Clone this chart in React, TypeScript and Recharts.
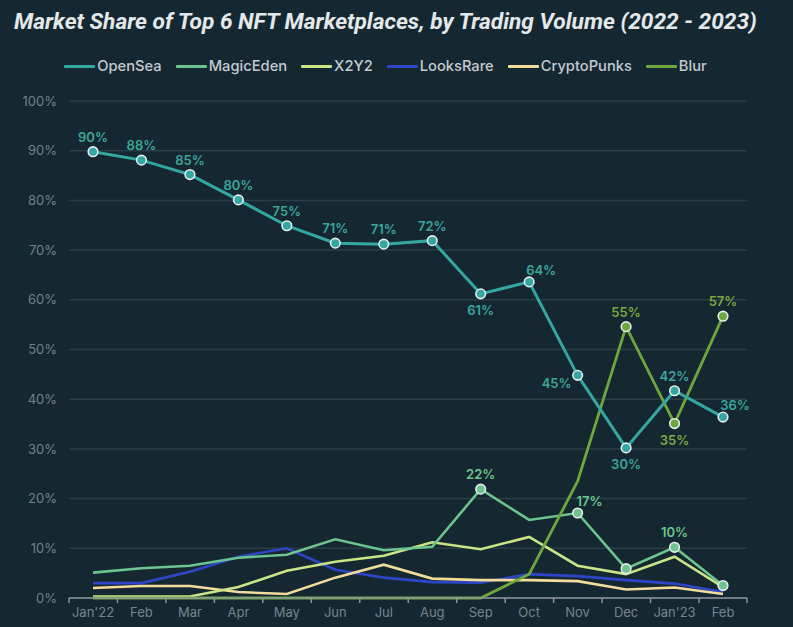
import * as React from "react";
import { LineChart, Line, XAxis, YAxis, CartesianGrid, Legend } from "recharts";

document.body.style.margin = "0";

const months = ["Jan'22", "Feb", "Mar", "Apr", "May", "Jun", "Jul", "Aug", "Sep", "Oct", "Nov", "Dec", "Jan'23", "Feb"];
const openSea = [89.8, 88.1, 85.2, 80.1, 74.9, 71.4, 71.2, 71.9, 61.2, 63.6, 44.8, 30.2, 41.7, 36.4];
const magicEden = [5.1, 6.0, 6.5, 8.1, 8.7, 11.8, 9.6, 10.3, 21.9, 15.7, 17.1, 5.9, 10.2, 2.5];
const x2y2 = [0.3, 0.3, 0.3, 2.2, 5.5, 7.3, 8.5, 11.2, 9.8, 12.3, 6.5, 4.8, 8.3, 2.2];
const looksRare = [3.0, 3.0, 5.3, 8.3, 10.0, 5.7, 4.1, 3.2, 3.1, 4.8, 4.4, 3.6, 2.9, 1.2];
const cryptoPunks = [2.0, 2.4, 2.4, 1.2, 0.8, 4.1, 6.7, 3.9, 3.6, 3.6, 3.4, 1.7, 2.1, 0.8];
const blur = [0, 0, 0, 0, 0, 0, 0, 0, 0, 4.8, 23.5, 54.6, 35.1, 56.7];
const yTicks = [0, 10, 20, 30, 40, 50, 60, 70, 80, 90, 100];

// which points get a marker, and where its label sits
type Mark = "top" | "bottom" | "left" | "topRight" | "dot";
const openSeaMarks: Record<number, Mark> = {
  0: "top", 1: "top", 2: "top", 3: "top", 4: "top", 5: "top", 6: "top", 7: "top",
  8: "bottom", 9: "topRight", 10: "left", 11: "bottom", 12: "top", 13: "topRight",
};
const magicEdenMarks: Record<number, Mark> = { 8: "top", 10: "topRight", 11: "dot", 12: "top", 13: "dot" };
const blurMarks: Record<number, Mark> = { 11: "top", 12: "bottom", 13: "top" };

const data = months.map((m, i) => ({
  month: m,
  OpenSea: openSea[i],
  MagicEden: magicEden[i],
  X2Y2: x2y2[i],
  LooksRare: looksRare[i],
  CryptoPunks: cryptoPunks[i],
  Blur: blur[i],
}));

const SERIES = [
  { key: "OpenSea", color: "#33a8a0" },
  { key: "MagicEden", color: "#6cc48f" },
  { key: "X2Y2", color: "#cbe586" },
  { key: "LooksRare", color: "#2f45c8" },
  { key: "CryptoPunks", color: "#f1dc9c" },
  { key: "Blur", color: "#6ea83c" },
];
const colorOf = (k: string) => SERIES.find((s) => s.key === k)!.color;

const BG = "#152831";
const FONT = "Inter, 'Noto Sans', sans-serif";
const X_PAD = 24;

function makeDot(marks: Record<number, Mark>, color: string, labelColor: string) {
  return (p: any) => {
    const mark = marks[p.index];
    if (!mark) return <g key={p.index} />;
    const label = `${Math.round(p.value)}%`;
    let tx = p.cx;
    let ty = p.cy - 10;
    if (mark === "bottom") ty = p.cy + 21;
    if (mark === "left") {
      tx = p.cx - 21;
      ty = p.cy + 13;
    }
    if (mark === "topRight") {
      tx = p.cx + 12;
      ty = p.cy - 7;
    }
    return (
      <g key={p.index}>
        <circle cx={p.cx} cy={p.cy} r={4.8} fill={color} stroke="#e8eef0" strokeWidth={1.6} />
        {mark !== "dot" && (
          <text x={tx} y={ty} textAnchor="middle" fill={labelColor} fontSize={13} fontWeight={600} fontFamily={FONT}>
            {label}
          </text>
        )}
      </g>
    );
  };
}

function XTick(props: any) {
  const { x, y, payload, index } = props;
  const axisY = y - 5;
  return (
    <g>
      <line x1={x - X_PAD} x2={x - X_PAD} y1={axisY} y2={axisY + 5} stroke="#8c969c" strokeWidth={1.5} />
      {index === months.length - 1 && (
        <line x1={x + X_PAD} x2={x + X_PAD} y1={axisY} y2={axisY + 5} stroke="#8c969c" strokeWidth={1.5} />
      )}
      <text x={x} y={y + 14} textAnchor="middle" fill="#76858e" fontSize={13} fontFamily={FONT}>
        {payload.value}
      </text>
    </g>
  );
}

function LegendRow() {
  return (
    <div style={{ display: "flex", justifyContent: "center", alignItems: "center", gap: 14, fontFamily: FONT, paddingRight: 22 }}>
      {SERIES.map((s) => (
        <div key={s.key} style={{ display: "flex", alignItems: "center", gap: 2 }}>
          <span style={{ display: "inline-block", width: 31, height: 3, background: s.color, borderRadius: 1 }} />
          <span style={{ color: "#c3cbd0", fontSize: 14.7, fontWeight: 500 }}>{s.key}</span>
        </div>
      ))}
    </div>
  );
}

export default function App() {
  return (
    <div style={{ position: "relative", width: 793, height: 627, background: BG, overflow: "hidden" }}>
      <div
        style={{
          position: "absolute",
          left: 14,
          top: 8,
          color: "#e4e8ea",
          fontFamily: "Roboto, Inter, sans-serif",
          fontStyle: "italic",
          fontWeight: 700,
          fontSize: 22.7,
          whiteSpace: "nowrap",
        }}
      >
        Market Share of Top 6 NFT Marketplaces, by Trading Volume (2022 - 2023)
      </div>
      <LineChart width={793} height={627} data={data} margin={{ top: 101, right: 46, left: 0, bottom: 0 }}>
        <CartesianGrid vertical={false} stroke="#2b3d48" strokeWidth={1.5} />
        <XAxis
          dataKey="month"
          height={29}
          padding={{ left: X_PAD, right: X_PAD }}
          tickLine={false}
          tickSize={5}
          tickMargin={0}
          axisLine={{ stroke: "#8c969c", strokeWidth: 1.5 }}
          tick={<XTick />}
          interval={0}
        />
        <YAxis
          width={69}
          domain={[0, 100]}
          ticks={yTicks}
          tickFormatter={(v) => `${v}%`}
          axisLine={false}
          tickLine={false}
          tickSize={0}
          tickMargin={12}
          tick={{ fill: "#71818b", fontSize: 13, fontFamily: FONT }}
        />
        <Legend
          verticalAlign="middle"
          align="center"
          wrapperStyle={{ top: 57, left: 0, width: 793 }}
          content={() => <LegendRow />}
        />
        <Line dataKey="LooksRare" stroke={colorOf("LooksRare")} strokeWidth={2.6} dot={false} isAnimationActive={false} />
        <Line dataKey="CryptoPunks" stroke={colorOf("CryptoPunks")} strokeWidth={2.6} dot={false} isAnimationActive={false} />
        <Line dataKey="X2Y2" stroke={colorOf("X2Y2")} strokeWidth={2.6} dot={false} isAnimationActive={false} />
        <Line
          dataKey="MagicEden"
          stroke={colorOf("MagicEden")}
          strokeWidth={2.6}
          dot={makeDot(magicEdenMarks, colorOf("MagicEden"), "#6cc48f")}
          isAnimationActive={false}
        />
        <Line
          dataKey="Blur"
          stroke={colorOf("Blur")}
          strokeWidth={2.8}
          dot={makeDot(blurMarks, colorOf("Blur"), "#7aa83e")}
          isAnimationActive={false}
        />
        <Line
          dataKey="OpenSea"
          stroke={colorOf("OpenSea")}
          strokeWidth={3}
          dot={makeDot(openSeaMarks, colorOf("OpenSea"), "#3aa69d")}
          isAnimationActive={false}
        />
      </LineChart>
    </div>
  );
}
